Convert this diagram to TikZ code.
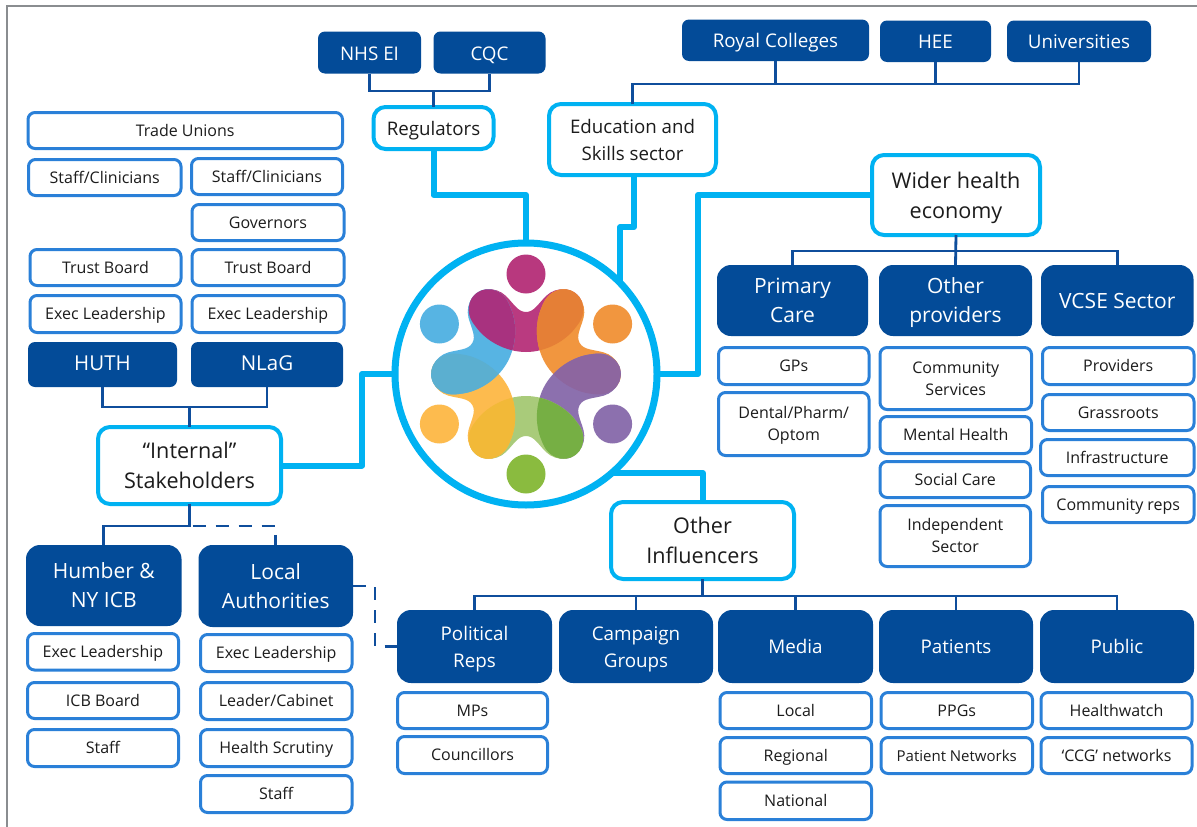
\documentclass[tikz,border=0pt]{standalone}
\usepackage{fontspec}
\setmainfont{Open Sans}
\definecolor{dkblue}{HTML}{034B98}
\definecolor{leafblue}{HTML}{2A80D8}
\definecolor{hubblue}{HTML}{00B2F2}
\definecolor{orgline}{HTML}{0F4E9C}
\definecolor{txt}{HTML}{1C1C1C}
\definecolor{framegray}{HTML}{8A8D90}
\tikzset{
  boxbase/.style={inner sep=0pt,align=center,outer sep=0pt},
  leaf/.style={boxbase,draw=leafblue,fill=white,line width=3pt,rounded corners=7pt,text=txt,font=\fontsize{16}{22}\selectfont},
  hubbox/.style={boxbase,draw=hubblue,fill=white,line width=4pt,rounded corners=12pt,text=txt,font=\fontsize{21.6}{30}\selectfont},
  darkbig/.style={boxbase,fill=dkblue,rounded corners=14pt,text=white,font=\fontsize{21}{29}\selectfont},
  darkmid/.style={boxbase,fill=dkblue,rounded corners=14pt,text=white,font=\fontsize{18.8}{27}\selectfont},
  darksmall/.style={boxbase,fill=dkblue,rounded corners=7pt,text=white,font=\fontsize{18.8}{28}\selectfont},
  org/.style={draw=orgline,line width=2.8pt},
  orgdash/.style={draw=orgline,line width=2.8pt,dash pattern=on 13pt off 10pt},
  link/.style={draw=hubblue,line width=6pt,line join=round},
  hubring/.style={circle,draw=hubblue,line width=7pt,fill=white,minimum size=262pt,inner sep=0pt,outer sep=0pt},
  dot/.style={circle,inner sep=0pt,minimum size=39pt},
}
\newcommand\lstrut{\rule[-0.23\baselineskip]{0pt}{\baselineskip}}
\newcommand\nl{\lstrut\\\lstrut}
\newcommand\bx[8]{%
  \pgfmathsetmacro\bxw{#4-#2-#8}\pgfmathsetmacro\bxh{#5-#3-#8}%
  \node[#6,minimum width=\bxw pt,minimum height=\bxh pt] (#1) at ({(#2+#4)/2},{(#3+#5)/2}) {\lstrut #7\lstrut};}
\newcommand\Lf[6]{\bx{#1}{#2}{#3}{#4}{#5}{leaf}{#6}{3}}
\newcommand\Hb[7][]{\bx{#2}{#3}{#4}{#5}{#6}{hubbox,#1}{#7}{4}}
\newcommand\Dk[7]{\bx{#2}{#3}{#4}{#5}{#6}{#1}{#7}{0}}
\newcommand\blob{(0,-62) .. controls (8,-62) and (12,-70) .. (20,-78) .. controls (30,-88) and (50,-88) .. (56,-72) .. controls (60,-60) and (54,-52) .. (50,-47) .. controls (40,-33) and (20,-22) .. (0,-22) .. controls (-20,-22) and (-40,-33) .. (-50,-47) .. controls (-54,-52) and (-60,-60) .. (-56,-72) .. controls (-50,-88) and (-30,-88) .. (-20,-78) .. controls (-12,-70) and (-8,-62) .. (0,-62) -- cycle}
\begin{document}
\begin{tikzpicture}[x=1pt,y=-1pt]
\useasboundingbox (0,0) rectangle (1197,827);
\fill[white] (0,0) rectangle (1197,827);
\draw[framegray,line width=2pt] (7,827) -- (7,5.5) -- (1197,5.5);

% hub
\node[hubring] (hub) at (526,374) {};

% logo
\begin{scope}[shift={(526,374)}]
  \foreach \ang/\col/\dcol in {0/BA3A80/B8387E,-60/F1963F/F1963F,-120/8C70AE/8C70AE,-180/A9CB7A/8ABB3F,-240/FDBB4E/FDBB4E,-300/57B4E3/57B4E3}{
    \definecolor{tmpc}{HTML}{\col}
    \definecolor{tmpd}{HTML}{\dcol}
    \fill[tmpc,rotate=\ang] \blob;
    \node[dot,fill=tmpd] at ({100*sin(-\ang)},{-100*cos(\ang)}) {};
  }
  \foreach \ang/\col in {0/E57F36,-60/8D669F,-120/76AF44,-180/F2B938,-240/5BAFD0,-300/A8327F}{
    \definecolor{tmpc}{HTML}{\col}
    \begin{scope}[rotate=\ang]
      \clip \blob;
      \fill[tmpc,rotate=-60] \blob;
    \end{scope}
  }
\end{scope}

% top
\Dk{darksmall}{nhs}{318}{31.5}{421}{73.5}{NHS EI}
\Dk{darksmall}{cqc}{433.5}{31.5}{545.5}{73.5}{CQC}
\Hb[font=\fontsize{18.7}{28}\selectfont]{reg}{371.5}{105}{495.5}{151}{Regulators}
\Dk{darksmall}{roy}{682}{19.5}{869}{61}{Royal Colleges}
\Dk{darksmall}{hee}{880}{20.5}{991}{62}{HEE}
\Dk{darksmall}{uni}{1007}{20.5}{1151}{62}{Universities}
\Hb[font=\fontsize{18.7}{27}\selectfont]{edu}{547}{102}{718}{177}{Education and\nl Skills sector}
\Hb{wid}{870}{153}{1042}{237}{Wider health\nl economy}

% wider health economy
\Dk{darkbig}{pri}{717}{265}{868}{336}{Primary\nl Care}
\Dk{darkbig}{opr}{879}{265}{1032}{336}{Other\nl providers}
\Dk{darkbig}{vcs}{1041}{265}{1193.5}{336}{VCSE Sector}
\Lf{gps}{717}{346}{870.5}{386}{GPs}
\Lf{den}{717}{391}{870.5}{457}{Dental/Pharm/\nl Optom}
\Lf{com}{878.5}{346}{1033}{411}{Community\nl Services}
\Lf{men}{878.5}{415}{1033}{455}{Mental Health}
\Lf{soc}{878.5}{460}{1032}{499}{Social Care}
\Lf{ind}{878.5}{504}{1032}{568}{Independent\nl Sector}
\Lf{pro}{1041}{346}{1195.5}{386}{Providers}
\Lf{gra}{1041}{393}{1195.5}{432}{Grassroots}
\Lf{inf}{1039}{438}{1195.5}{477}{Infrastructure}
\Lf{crp}{1041}{485}{1195.5}{524}{Community reps}

% other influencers
\Hb{oth}{609}{500}{796}{581}{Other\nl Influencers}
\Dk{darkmid}{pol}{397}{610}{552}{683}{Political\nl Reps}
\Dk{darkmid}{cam}{559}{610}{713}{683}{Campaign\nl Groups}
\Dk{darkmid}{med}{718}{610}{873}{683}{Media}
\Dk{darkmid}{pat}{879}{610}{1033}{683}{Patients}
\Dk{darkmid}{pub}{1040}{610}{1194}{683}{Public}
\Lf{mps}{396}{691}{549}{730}{MPs}
\Lf{cou}{396}{735}{549}{775}{Councillors}
\Lf{loc}{718.5}{691}{873}{730}{Local}
\Lf{rgn}{718.5}{736}{873}{775}{Regional}
\Lf{nat}{718.5}{780.5}{873}{821}{National}
\Lf{ppg}{879.5}{691}{1034}{730}{PPGs}
\bx{pnw}{879.5}{736}{1034}{775}{leaf,font=\fontsize{15}{22}\selectfont}{Patient Networks}{3}
\Lf{hwt}{1039.5}{691}{1193.5}{730}{Healthwatch}
\Lf{ccg}{1039.5}{736}{1193.5}{775}{‘CCG’ networks}

% internal
\Hb{int}{96}{425}{283}{506}{“Internal”\nl Stakeholders}
\Dk{darksmall,font=\fontsize{20.5}{24}\selectfont}{hut}{28}{342}{177}{387}{HUTH}
\Dk{darksmall,font=\fontsize{20.5}{24}\selectfont}{nla}{191}{342}{343}{387}{NLaG}
\Lf{tra}{26.5}{111}{344}{150}{Trade Unions}
\Lf{sc1}{27}{158}{182.5}{197}{Staff/Clinicians}
\Lf{sc2}{190}{157}{344}{196}{Staff/Clinicians}
\Lf{gov}{190.5}{203}{345.5}{242}{Governors}
\Lf{tb1}{28.5}{248}{182.5}{287}{Trust Board}
\Lf{tb2}{190.5}{248}{345.5}{287}{Trust Board}
\Lf{ex1}{28.5}{294}{182.5}{334}{Exec Leadership}
\Lf{ex2}{190.5}{294}{345.5}{334}{Exec Leadership}
\Dk{darkbig}{hum}{26}{545}{181.5}{626}{Humber \&\nl NY ICB}
\Dk{darkbig}{lau}{198.5}{545}{353}{627}{Local\nl Authorities}
\Lf{ex3}{26}{632}{180}{671.5}{Exec Leadership}
\Lf{icb}{26}{681}{180}{720}{ICB Board}
\Lf{st1}{26}{728}{180}{768}{Staff}
\Lf{ex4}{199}{633}{353.5}{673}{Exec Leadership}
\Lf{lea}{199}{681}{353.5}{721}{Leader/Cabinet}
\Lf{hsc}{199}{728}{353.5}{768}{Health Scrutiny}
\Lf{st2}{199}{774}{353.5}{814}{Staff}

% thick links to the hub
\draw[link] (reg.south) -- ++(0,46) -| (hub.north);
\draw[link] ([xshift=1.5pt]edu.south) -- ++(0,52) -| (hub.44);
\draw[link] (wid.west) -| ([xshift=41pt]hub.east) -- (hub.east);
\draw[link] (oth.north) |- (hub.-49);
\draw[link] (int.east) -| ([xshift=-33pt]hub.west) -- (hub.west);

% org lines
\coordinate (regbus) at (reg.north |- 0,91);
\draw[org] (nhs.south) |- (regbus) -| (cqc.south);
\draw[org] (regbus) -- (reg.north);
\coordinate (edubus) at (edu.north |- 0,84);
\draw[org] (edu.north) -- (edubus) -| (roy.south);
\draw[org] (edubus) -| (hee.south);
\draw[org] (edubus) -| (uni.south);
\coordinate (widbus) at (wid.south |- 0,251);
\draw[org] (wid.south) -- (opr.north);
\draw[org] (pri.north) |- (widbus) -| (vcs.north);
\coordinate (othbus) at (oth.south |- 0,596);
\draw[org] (oth.south) -- (othbus) -| (pol.north);
\draw[org] (othbus) -| (cam.north);
\draw[org] (othbus) -| (med.north);
\draw[org] (othbus) -| (pat.north);
\draw[org] (othbus) -| (pub.north);
\coordinate (intbus) at (int.north |- 0,407);
\draw[org] (hut.south) |- (intbus) -| (nla.south);
\draw[org] (intbus) -- (int.north);
\coordinate (lowbus) at (int.south |- 0,526);
\draw[org] (int.south) -- (lowbus) -| (hum.north);
\draw[orgdash] ([xshift=3pt]lowbus) -| (lau.north);
\draw[orgdash] (lau.east) -- ++(22,0) |- (pol.west);
\end{tikzpicture}
\end{document}
